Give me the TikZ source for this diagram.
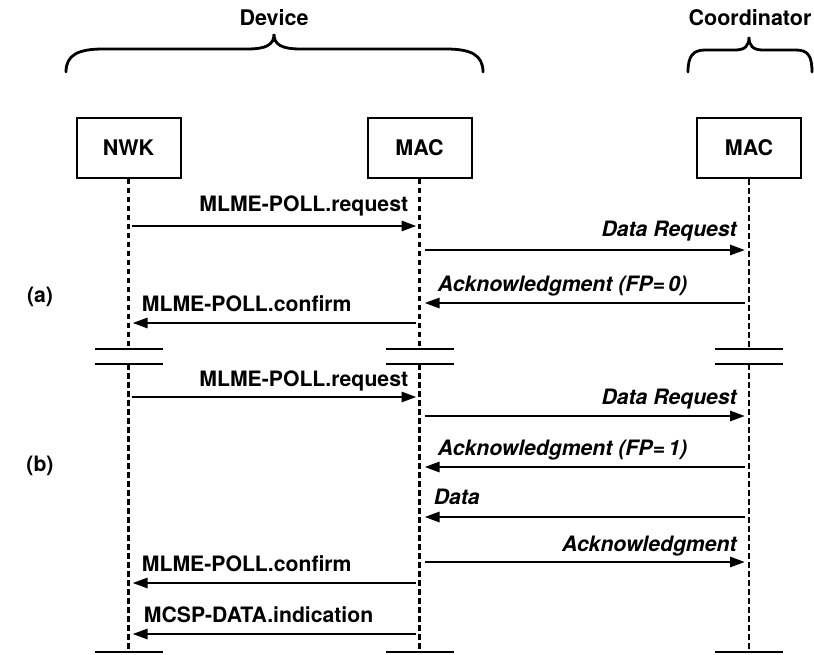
\documentclass[tikz,border=0pt]{standalone}
\usepackage{fontspec}
\setmainfont{TeX Gyre Heros}
\usetikzlibrary{arrows.meta}
\tikzset{
  txt/.style={font=\fontsize{21.2}{26}\selectfont\bfseries, inner sep=0pt},
  itxt/.style={font=\fontsize{21.2}{26}\selectfont\bfseries\itshape, inner sep=0pt},
  entity/.style={draw, line width=2pt, minimum width=104pt, minimum height=60pt, inner sep=0pt, font=\fontsize{21.5}{26}\selectfont\bfseries},
  life/.style={line width=2.6pt, dash pattern=on 5.5pt off 3.5pt},
  msg/.style={line width=2.8pt, -{Triangle[length=15pt,width=10pt]}},
  brk/.style={line width=2.8pt},
  brace/.style={line width=2.8pt, line cap=round}
}
\begin{document}
\begin{tikzpicture}[x=1pt,y=-1pt]
\useasboundingbox (0,0) rectangle (814,654);

% headers
\node[txt, anchor=base, font=\fontsize{21.5}{26}\selectfont\bfseries] (devlbl) at (274,25) {Device};
\node[txt, anchor=base, font=\fontsize{21.5}{26}\selectfont\bfseries] (coordlbl) at (750,25) {Coordinator};
\draw[brace] (66,72) .. controls (66,55) and (78,49) .. (103,49) -- (247,49)
  .. controls (266,49) and (274,45) .. (274,34)
  .. controls (274,45) and (282,49) .. (301,49) -- (446,49)
  .. controls (471,49) and (483,55) .. (483,72);
\draw[brace] (688,72) .. controls (688,56) and (693,50) .. (705,50) -- (735,50)
  .. controls (745,50) and (749,46) .. (749,37)
  .. controls (749,46) and (753,50) .. (763,50) -- (796,50)
  .. controls (808,50) and (812,56) .. (812,72);

% entities
\node[entity] (nwk) at (128.5,147.5) {NWK};
\node[entity] (mac) at (419.5,147.5) {MAC};
\node[entity] (cmac) at (749,148) {MAC};

% lifelines with breaks
\foreach \e in {nwk,mac,cmac}{
  \coordinate (\e-b1) at (\e.south |- 0,349);
  \coordinate (\e-b2) at (\e.south |- 0,364);
  \coordinate (\e-end) at (\e.south |- 0,652);
  \draw[life] (\e.south) -- (\e-b1);
  \draw[life] (\e-b2) -- (\e-end);
  \draw[brk] ([xshift=-34pt]\e-b1) -- ([xshift=34pt]\e-b1);
  \draw[brk] ([xshift=-34pt]\e-b2) -- ([xshift=34pt]\e-b2);
  \draw[brk] ([xshift=-34pt]\e-end) -- ([xshift=34pt]\e-end);
}

% phase labels
\node[txt] (pa) at (40,297) {(a)};
\node[txt] (pb) at (40,466) {(b)};

% phase (a)
\draw[msg] ([xshift=3pt]nwk.south |- 0,226) -- ([xshift=-3pt]mac.south |- 0,226)
  node[txt, anchor=base east, pos=1, xshift=-7pt, yshift=15pt] (m1) {MLME-POLL.request};
\draw[msg] ([xshift=5pt]mac.south |- 0,250) -- ([xshift=-4pt]cmac.south |- 0,250)
  node[itxt, anchor=base east, pos=1, xshift=-7pt, yshift=14pt] (m2) {Data Request};
\draw[msg] ([xshift=-4pt]cmac.south |- 0,303) -- ([xshift=5pt]mac.south |- 0,303)
  node[itxt, anchor=base west, pos=1, xshift=12pt, yshift=12pt] (m3) {Acknowledgment (FP=\,0)};
\draw[msg] ([xshift=-4pt]mac.south |- 0,323) -- ([xshift=4pt]nwk.south |- 0,323)
  node[txt, anchor=base west, pos=1, xshift=8pt, yshift=12pt] (m4) {MLME-POLL.confirm};

% phase (b)
\draw[msg] ([xshift=3pt]nwk.south |- 0,397) -- ([xshift=-3pt]mac.south |- 0,397)
  node[txt, anchor=base east, pos=1, xshift=-7pt, yshift=11pt] (m5) {MLME-POLL.request};
\draw[msg] ([xshift=5pt]mac.south |- 0,416) -- ([xshift=-4pt]cmac.south |- 0,416)
  node[itxt, anchor=base east, pos=1, xshift=-7pt, yshift=12pt] (m6) {Data Request};
\draw[msg] ([xshift=-4pt]cmac.south |- 0,467) -- ([xshift=5pt]mac.south |- 0,467)
  node[itxt, anchor=base west, pos=1, xshift=12pt, yshift=12pt] (m7) {Acknowledgment (FP=\,1)};
\draw[msg] ([xshift=-4pt]cmac.south |- 0,517) -- ([xshift=5pt]mac.south |- 0,517)
  node[itxt, anchor=base west, pos=1, xshift=8pt, yshift=13pt] (m8) {Data};
\draw[msg] ([xshift=5pt]mac.south |- 0,562) -- ([xshift=-4pt]cmac.south |- 0,562)
  node[itxt, anchor=base east, pos=1, xshift=-7pt, yshift=11pt] (m9) {Acknowledgment};
\draw[msg] ([xshift=-4pt]mac.south |- 0,583) -- ([xshift=4pt]nwk.south |- 0,583)
  node[txt, anchor=base west, pos=1, xshift=8pt, yshift=12pt] (m10) {MLME-POLL.confirm};
\draw[msg] ([xshift=-4pt]mac.south |- 0,634) -- ([xshift=4pt]nwk.south |- 0,634)
  node[txt, anchor=base west, pos=1, xshift=10pt, yshift=12pt] (m11) {MCSP-DATA.indication};
\end{tikzpicture}
\end{document}
